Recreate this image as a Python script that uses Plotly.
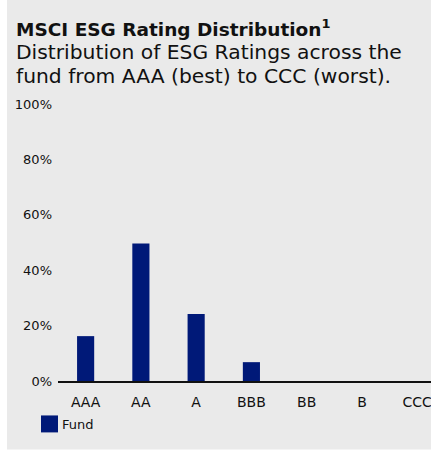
import plotly.graph_objects as go

categories = ["AAA", "AA", "A", "BBB", "BB", "B", "CCC"]
fund_values = [16.2, 49.6, 24.2, 6.8, 0, 0, 0]
y_ticks = [0, 20, 40, 60, 80, 100]
y_tick_labels = ["0%", "20%", "40%", "60%", "80%", "100%"]

W, H = 431, 471
ML, MR, MT, MB = 58, 0, 104, 89.5
PW = W - ML - MR
PH = H - MT - MB


def px_x(px):
    return (px - ML) / PW


def px_y(py):
    return (H - MB - py) / PH


BG = "#EAEAEA"
NAVY = "#001978"
FONT = "DejaVu Sans"
TXT = "#111111"

fig = go.Figure()
fig.add_trace(go.Bar(
    x=categories, y=fund_values, name="Fund",
    marker=dict(color=NAVY, line=dict(width=0)),
    width=0.31, showlegend=False, hoverinfo="x+y",
))

fig.add_shape(type="rect", xref="paper", yref="paper",
              x0=px_x(7), x1=px_x(W + 5), y0=px_y(450), y1=px_y(-5),
              fillcolor=BG, line=dict(width=0), layer="below")

# legend
fig.add_shape(type="rect", xref="paper", yref="paper",
              x0=px_x(41), x1=px_x(58), y0=px_y(433), y1=px_y(416),
              fillcolor=NAVY, line=dict(width=0))
fig.add_annotation(text="Fund", xref="paper", yref="paper",
                   x=px_x(60), y=px_y(425), xanchor="left", yanchor="middle",
                   showarrow=False, font=dict(family=FONT, size=13, color=TXT))

fig.add_annotation(text="<b>MSCI ESG Rating Distribution<sup>1</sup></b>",
                   xref="paper", yref="paper", x=px_x(14), y=px_y(28),
                   xanchor="left", yanchor="middle", showarrow=False, align="left",
                   font=dict(family=FONT, size=18.5, color=TXT))
fig.add_annotation(text="Distribution of ESG Ratings across the",
                   xref="paper", yref="paper", x=px_x(14), y=px_y(52),
                   xanchor="left", yanchor="middle", showarrow=False, align="left",
                   font=dict(family=FONT, size=20.3, color=TXT))
fig.add_annotation(text="fund from AAA (best) to CCC (worst).",
                   xref="paper", yref="paper", x=px_x(14), y=px_y(76),
                   xanchor="left", yanchor="middle", showarrow=False, align="left",
                   font=dict(family=FONT, size=20.3, color=TXT))

fig.update_layout(
    width=W, height=H,
    margin=dict(l=ML, r=MR, t=MT, b=MB, pad=0),
    paper_bgcolor="white", plot_bgcolor="rgba(0,0,0,0)",
    showlegend=False,
    xaxis=dict(range=[-0.5, 6.25], showgrid=False, zeroline=False,
               showline=True, linecolor=TXT, linewidth=1.5,
               ticks="", tickfont=dict(family=FONT, size=14, color=TXT),
               ticklabelstandoff=7, fixedrange=True),
    yaxis=dict(range=[0, 100], tickvals=y_ticks, ticktext=y_tick_labels,
               showgrid=False, zeroline=False, showline=False, ticks="",
               tickfont=dict(family=FONT, size=13, color=TXT),
               ticklabelstandoff=5, fixedrange=True),
)

fig.write_html("out.html", config={"displayModeBar": False},
               post_script="document.body.style.margin='0';document.body.style.overflow='hidden';")
